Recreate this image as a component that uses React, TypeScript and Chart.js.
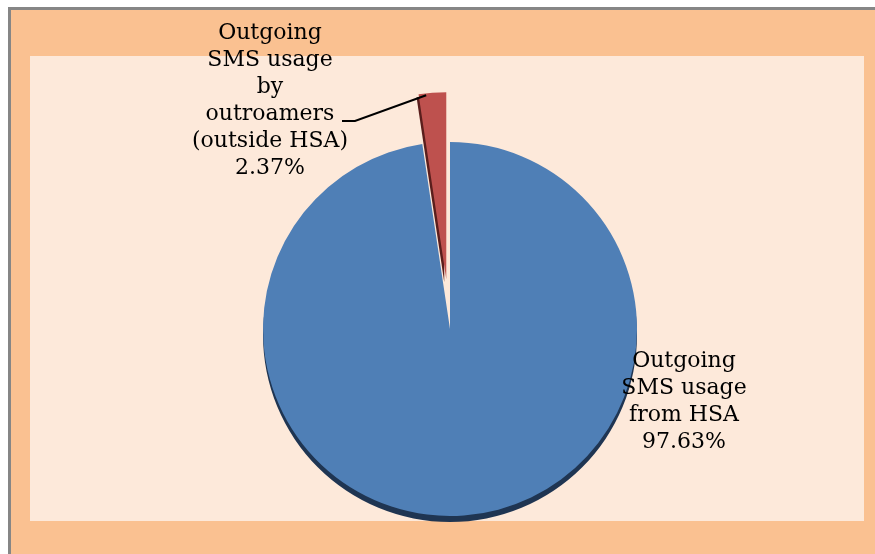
import React, { useEffect, useRef } from "react";
import { Chart, registerables } from "chart.js";

Chart.register(...registerables);

const categories = [
  "Outgoing SMS usage from HSA",
  "Outgoing SMS usage by outroamers (outside HSA)",
];
const shares = [97.63, 2.37];
const labelLines = [
  ["Outgoing", "SMS usage", "from HSA"],
  ["Outgoing", "SMS usage", "by", "outroamers", "(outside HSA)"],
];
const sliceColors = ["#4F7FB6", "#BE514E"];
const edgeColors = ["#1F3552", "#5A1E1C"];

const W = 875;
const H = 554;

const decorPlugin = {
  id: "decor",
  beforeDraw(chart: any) {
    const ctx = chart.ctx;
    ctx.save();
    ctx.fillStyle = "#FFFFFF";
    ctx.fillRect(0, 0, W, H);
    ctx.fillStyle = "#868686";
    ctx.fillRect(8, 7, W - 8, H - 7);
    ctx.fillStyle = "#FAC191";
    ctx.fillRect(11, 10, W - 11, H - 10);
    ctx.fillStyle = "#FDE9DA";
    ctx.fillRect(30, 56, 834, 465);
    ctx.restore();
  },
  afterDatasetsUpdate(chart: any) {
    const meta = chart.getDatasetMeta(0);
    const arc = meta.data[1];
    if (!arc) return;
    const mid = (arc.startAngle + arc.endAngle) / 2;
    const explode = 50;
    arc.x = arc.x + Math.cos(mid) * explode;
    arc.y = arc.y + Math.sin(mid) * explode;
  },
  beforeDatasetsDraw(chart: any) {
    const ctx = chart.ctx;
    const meta = chart.getDatasetMeta(0);
    const shifts = [
      [0, 6],
      [-2, 3],
    ];
    meta.data.forEach((arc: any, i: number) => {
      const [dx, dy] = shifts[i];
      ctx.save();
      ctx.fillStyle = edgeColors[i];
      ctx.beginPath();
      ctx.moveTo(arc.x + dx, arc.y + dy);
      ctx.arc(arc.x + dx, arc.y + dy, arc.outerRadius, arc.startAngle, arc.endAngle);
      ctx.closePath();
      ctx.fill();
      ctx.restore();
    });
  },
  afterDatasetsDraw(chart: any) {
    const ctx = chart.ctx;
    ctx.save();
    ctx.fillStyle = "#000000";
    ctx.font = '22px "DejaVu Serif"';
    ctx.textAlign = "center";
    ctx.textBaseline = "alphabetic";
    const lh = 27;
    const l0 = [...labelLines[0], shares[0].toFixed(2) + "%"];
    l0.forEach((t, k) => ctx.fillText(t, 684, 367 + k * lh));
    const l1 = [...labelLines[1], shares[1].toFixed(2) + "%"];
    l1.forEach((t, k) => ctx.fillText(t, 270, 39 + k * lh));
    const arc = chart.getDatasetMeta(0).data[1];
    const a = arc.startAngle + 0.04;
    const tipX = arc.x + Math.cos(a) * (arc.outerRadius - 2);
    const tipY = arc.y + Math.sin(a) * (arc.outerRadius - 2);
    ctx.strokeStyle = "#000000";
    ctx.lineWidth = 2;
    ctx.beginPath();
    ctx.moveTo(342, 121);
    ctx.lineTo(355, 121);
    ctx.lineTo(tipX, tipY);
    ctx.stroke();
    ctx.restore();
  },
};

export default function App() {
  const ref = useRef<HTMLCanvasElement | null>(null);
  useEffect(() => {
    if (!ref.current) return;
    const chart = new Chart(ref.current, {
      type: "pie",
      data: {
        labels: categories,
        datasets: [
          {
            data: shares,
            backgroundColor: sliceColors,
            borderWidth: 0,
          },
        ],
      },
      options: {
        responsive: false,
        animation: false,
        devicePixelRatio: 1,
        radius: 187,
        layout: { padding: { left: 100, right: 75, top: 122, bottom: 18 } },
        plugins: {
          legend: { display: false },
          tooltip: { enabled: false },
          title: { display: false },
        },
      },
      plugins: [decorPlugin],
    });
    return () => chart.destroy();
  }, []);
  return (
    <div style={{ position: "fixed", left: 0, top: 0, width: W, height: H }}>
      <canvas ref={ref} width={W} height={H} style={{ display: "block" }} />
    </div>
  );
}
